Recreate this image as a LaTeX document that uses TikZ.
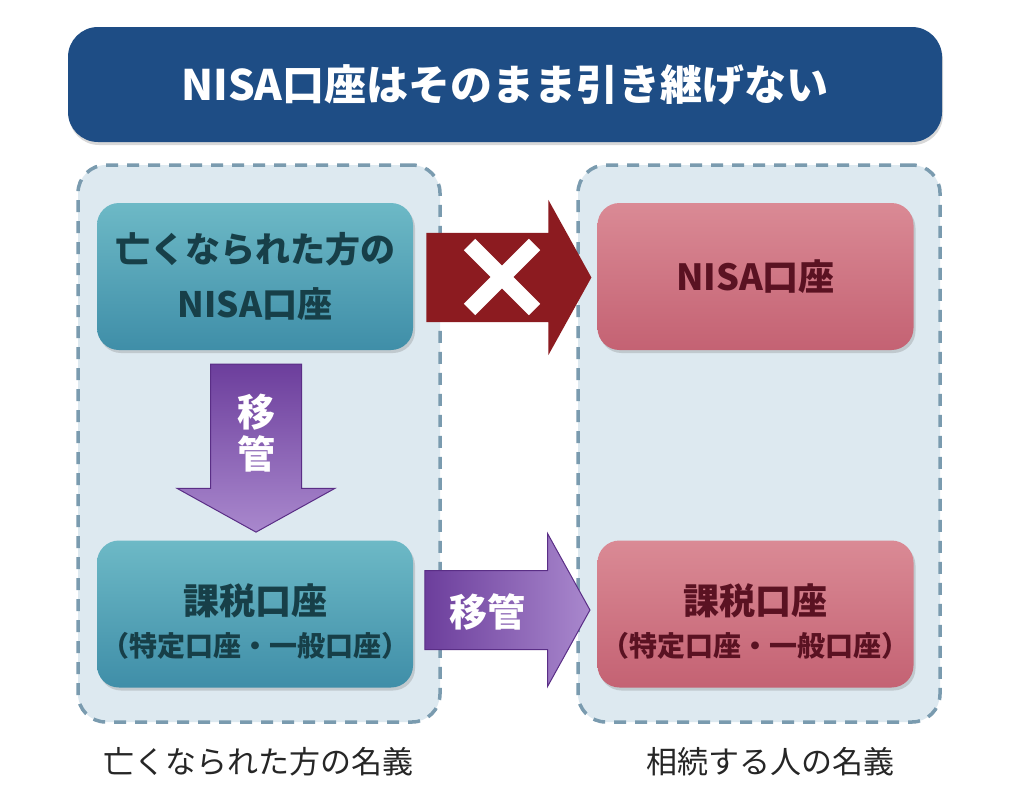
\documentclass[tikz,border=0pt]{standalone}
\usepackage{fontspec}
\setmainfont{Noto Sans CJK JP}
\usepackage{tikz}
\usetikzlibrary{arrows.meta,positioning,calc,shapes.arrows,shapes.misc,shadows}

\definecolor{titleblue}{HTML}{1E4D85}
\definecolor{panelfill}{HTML}{DDE9F0}
\definecolor{panelline}{HTML}{7A9BAF}
\definecolor{tealtop}{HTML}{6DB9C6}
\definecolor{tealbot}{HTML}{3F8EA8}
\definecolor{tealtext}{HTML}{173F48}
\definecolor{pinktop}{HTML}{DA8A95}
\definecolor{pinkbot}{HTML}{C46273}
\definecolor{pinktext}{HTML}{5A1222}
\definecolor{ngred}{HTML}{8C1B20}
\definecolor{movedark}{HTML}{6C3E9C}
\definecolor{movelight}{HTML}{A988CD}
\definecolor{moveline}{HTML}{5A2E86}

\begin{document}
\begin{tikzpicture}[x=1pt,y=-1pt,
  panel/.style={draw=panelline,fill=panelfill,dash pattern=on 12pt off 9pt,line width=3.5pt,
    rounded corners=28pt,minimum width=362pt,minimum height=557pt},
  oldbox/.style={rounded corners=22pt,top color=tealtop,bottom color=tealbot,text=tealtext,
    minimum width=316pt,minimum height=147pt,align=center,
    drop shadow={opacity=0.3,shadow xshift=2pt,shadow yshift=-3pt}},
  newbox/.style={oldbox,top color=pinktop,bottom color=pinkbot,text=pinktext},
  taxtext/.style={align=center,font=\fontsize{36}{43}\selectfont\bfseries},
  blockarrow/.style={single arrow,single arrow head indent=0pt,single arrow tip angle=122},
  movetext/.style={text=white,font=\fontsize{38}{42}\selectfont\bfseries,align=center}]
  \useasboundingbox (0,0) rectangle (1024,811);
  \fill[white] (0,0) rectangle (1024,811);
  % title
  \node[fill=titleblue,rounded corners=30pt,minimum width=874pt,minimum height=115pt,
    text=white,font=\fontsize{42}{46}\selectfont\bfseries,
    drop shadow={opacity=0.3,shadow xshift=1pt,shadow yshift=-3pt}] (title) at (505,84.5)
    {NISA口座はそのまま引き継げない};
  % panels
  \node[panel] (lpanel) at (259,443.5) {};
  \node[panel] (rpanel) at (759,443.5) {};
  % accounts
  \node[oldbox,font=\fontsize{35}{55}\selectfont\bfseries] (oldnisa) at (255,276.5)
    {亡くなられた方の\\NISA口座};
  \node[newbox,font=\fontsize{36}{40}\selectfont\bfseries] (newnisa) at (755.5,276.5) {NISA口座};
  \node[oldbox] (oldtax) at (255,614) {};
  \node[taxtext,text=tealtext] (oldtaxtext) at (255,622)
    {課税口座\\[-1pt]{\fontsize{28}{32}\selectfont （特定口座・一般口座）}};
  \node[newbox] (newtax) at (755.5,614) {};
  \node[taxtext,text=pinktext] (newtaxtext) at (755.5,622)
    {課税口座\\[-1pt]{\fontsize{28}{32}\selectfont （特定口座・一般口座）}};
  % not carried over
  \node[blockarrow,fill=ngred,inner sep=44.5pt,single arrow head extend=33pt,
    minimum height=165pt] (ng) at (496.5,277.5) {};
  \node[cross out,draw=white,line width=16pt,minimum size=49pt] (ngmark) at (502,277) {};
  % transfers
  \node[blockarrow,shape border rotate=270,top color=movedark,bottom color=movelight,
    draw=moveline,line width=1pt,inner sep=45pt,single arrow head extend=33.5pt,
    minimum height=168pt] (move1) at (256,435.5) {};
  \node[movetext] (move1text) at (256,433) {移\\管};
  \node[blockarrow,left color=movedark,right color=movelight,draw=moveline,line width=1pt,
    inner sep=39pt,single arrow head extend=37pt,minimum height=165pt] (move2) at (496.5,610) {};
  \node[movetext] (move2text) at (487,612) {移管};
  % owners
  \node[font=\fontsize{31}{34}\selectfont,text=black!85] (oldname) at (258,762) {亡くなられた方の名義};
  \node[font=\fontsize{31}{34}\selectfont,text=black!85] (newname) at (770,762) {相続する人の名義};
\end{tikzpicture}
\end{document}
